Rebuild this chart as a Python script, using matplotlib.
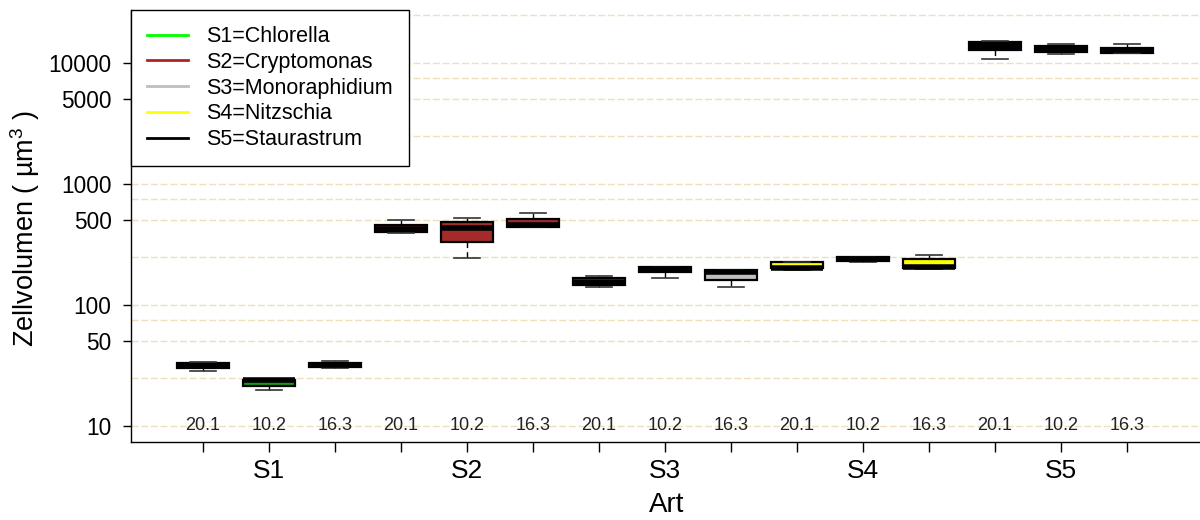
import matplotlib
matplotlib.use("Agg")
import matplotlib.pyplot as plt
from matplotlib.lines import Line2D

plt.rcParams['font.family'] = ['Liberation Sans', 'DejaVu Sans']
plt.rcParams['mathtext.fontset'] = 'custom'
plt.rcParams['mathtext.rm'] = 'Liberation Sans'
plt.rcParams['mathtext.it'] = 'Liberation Sans:italic'

# species and sampling dates
species = ["S1", "S2", "S3", "S4", "S5"]
species_names = ["Chlorella", "Cryptomonas", "Monoraphidium", "Nitzschia", "Staurastrum"]
dates = ["20.1", "10.2", "16.3"]
legend_colors = ["#00ff00", "#b22222", "#bebebe", "#ffff00", "#000000"]
fill_colors = ["#1a961a", "#a52a2a", "#bebebe", "#ffff00", "#000000"]

# cell volume summaries (µm³), one entry per species x date, in order S1..S5 / 20.1, 10.2, 16.3
whisker_low = [28.7, 20.0, 29.9,   391, 243, 444,   141, 166, 141,   196, 225, 198,   10850, 11800, 12090]
quartile_1  = [30.1, 21.5, 30.8,   403, 330, 444,   146, 186, 161,   201, 232, 201,   12880, 12260, 12090]
median      = [31.6, 23.8, 31.9,   425, 430, 454,   156, 200, 189,   204, 240, 206,   13800, 13050, 12800]
quartile_3  = [33.2, 24.2, 33.2,   458, 488, 514,   168, 206, 196,   225, 248, 239,   14830, 13740, 13370]
whisker_high = [33.8, 24.2, 34.4,  500, 527, 579,   175, 206, 196,   225, 250, 258,   15100, 14270, 14270]

y_ticks = [10, 50, 100, 500, 1000, 5000, 10000]
grid_levels = [10, 25, 50, 75, 100, 250, 500, 750, 1000, 2500, 5000, 7500, 10000, 25000]

fig = plt.figure(figsize=(12, 5.2), dpi=100)
ax = fig.add_axes([131 / 1200, 78 / 520, 1069 / 1200, 432 / 520])

n_dates = len(dates)
positions = list(range(1, len(species) * n_dates + 1))

stats = []
for i in range(len(positions)):
    stats.append(dict(whislo=whisker_low[i], q1=quartile_1[i], med=median[i],
                      q3=quartile_3[i], whishi=whisker_high[i], fliers=[]))

for g in grid_levels:
    ax.axhline(g, color="#eee0bd", lw=1.0, ls=(0, (5, 2)), zorder=0)

bp = ax.bxp(stats, positions=positions, widths=0.8, capwidths=0.4,
            patch_artist=True, showfliers=False,
            boxprops=dict(edgecolor="black", linewidth=1.6),
            medianprops=dict(color="black", linewidth=4.0, solid_capstyle="butt"),
            whiskerprops=dict(color="black", linewidth=1.0, linestyle=(0, (4, 3))),
            capprops=dict(color="#333333", linewidth=1.2),
            zorder=2)
for i, box in enumerate(bp["boxes"]):
    box.set_facecolor(fill_colors[i // n_dates])

for i, p in enumerate(positions):
    ax.text(p, 10, dates[i % n_dates], ha="center", va="center",
            fontsize=13, color="#222222", zorder=3)

ax.set_yscale("log")
ax.set_ylim(10 ** (1 - 16 / 121), 10 ** (1 + 416 / 121))
ax.set_xlim(1 - 72 / 66, 1 + 997 / 66)

ax.set_yticks(y_ticks)
ax.set_yticklabels([str(t) for t in y_ticks])
ax.yaxis.set_minor_locator(matplotlib.ticker.NullLocator())
ax.tick_params(axis="y", length=6, width=1, pad=8, labelsize=16.3)

xlabels = []
for i, p in enumerate(positions):
    xlabels.append(species[i // n_dates] if i % n_dates == 1 else "")
ax.set_xticks(positions)
ax.set_xticklabels(xlabels)
ax.tick_params(axis="x", length=7, width=1, pad=5, labelsize=19)

for side in ["top", "right"]:
    ax.spines[side].set_visible(False)
for side in ["left", "bottom"]:
    ax.spines[side].set_linewidth(1.0)

fig.text(25 / 1200, 1 - 228 / 520, "Zellvolumen ( µm$^{3}$ )", rotation=90,
         ha="center", va="center", fontsize=19.5)
fig.text((131 + 536) / 1200, 1 - 505 / 520, "Art", ha="center", va="center", fontsize=20)

handles = [Line2D([0], [0], color=c, lw=2) for c in legend_colors]
labels = [f"{s}={n}" for s, n in zip(species, species_names)]
leg = ax.legend(handles, labels, loc="upper left", bbox_to_anchor=(0, 1),
                borderaxespad=0, fontsize=15.5, frameon=True, fancybox=False,
                handlelength=1.9, handletextpad=0.85, labelspacing=0.22,
                borderpad=0.75)
leg.get_frame().set_edgecolor("black")
leg.get_frame().set_linewidth(1.0)
leg.get_frame().set_alpha(1)
leg.set_zorder(5)

fig.savefig("out.png", dpi=100, facecolor="white")
